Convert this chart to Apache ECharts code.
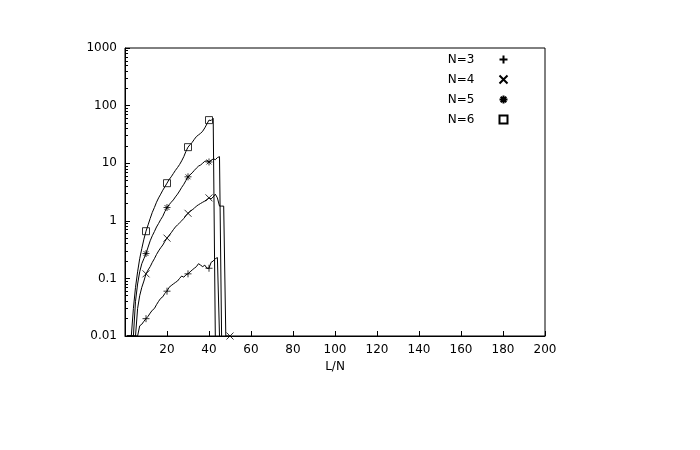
<!DOCTYPE html>
<html><head><meta charset="utf-8">
<script src="https://cdn.jsdelivr.net/npm/echarts@6/dist/echarts.min.js"></script>
</head><body style="margin:0">
<div id="c" style="width:700px;height:450px"></div>
<script>
const n3 = [0.01,0.01,0.01,0.01,0.01,0.01,0.015,0.016,0.018,0.02,0.022,0.025,0.028,0.03,0.035,0.04,0.045,0.048,0.055,0.06,0.07,0.075,0.08,0.085,0.09,0.1,0.11,0.105,0.115,0.12,0.13,0.14,0.15,0.16,0.18,0.17,0.16,0.17,0.15,0.15,0.19,0.2,0.22,0.23,0.01];
const n4 = [0.01,0.01,0.01,0.01,0.01,0.03,0.05,0.07,0.09,0.12,0.14,0.16,0.19,0.22,0.26,0.3,0.34,0.38,0.44,0.5,0.56,0.62,0.7,0.78,0.85,0.92,1.0,1.1,1.22,1.35,1.45,1.55,1.65,1.8,1.9,2.0,2.1,2.2,2.35,2.5,2.4,2.6,2.9,2.5,1.8,1.8,1.8,0.01,0.01,0.01];
const n5 = [0.01,0.01,0.01,0.01,0.04,0.08,0.13,0.18,0.22,0.27,0.35,0.45,0.55,0.65,0.78,0.9,1.05,1.2,1.45,1.7,1.9,2.1,2.3,2.6,2.9,3.3,3.8,4.3,5,5.8,6.3,6.8,7.5,8.2,8.9,9.3,10,10.8,11,10.5,11,12,11.5,12.5,13,0.01];
const n6 = [0.01,0.01,0.01,0.03,0.07,0.13,0.22,0.33,0.48,0.66,0.85,1.1,1.4,1.7,2.1,2.5,2.9,3.4,3.9,4.5,5.2,5.8,6.6,7.5,8.4,9.5,11,13,16,19,21,23,26,29,31,33,36,41,48,56,55,60,0.01];
const names = ['N=3','N=4','N=5','N=6'];
const xTicks = [20,40,60,80,100,120,140,160,180,200];
const syms = [
 'path://M5,0L5,10M0,5L10,5',
 'path://M0,0L10,10M10,0L0,10',
 'path://M5,0L5,10M0,5L10,5M1.5,1.5L8.5,8.5M8.5,1.5L1.5,8.5',
 'path://M0,0L10,0L10,10L0,10Z'
];
const all = [n3,n4,n5,n6];
const series = all.map((arr,i)=>({
  name: names[i], type:'line', symbol: syms[i],
  symbolSize: (v)=> v[0]%10===0 ? 7 : 0,
  showAllSymbol:true,
  data: arr.map((y,k)=>[k+1,y]),
  lineStyle:{color:'#000',width:1},
  itemStyle:{color:'none',borderColor:'#000',borderWidth:0.8},
  animation:false
}));
const chart = echarts.init(document.getElementById('c'));
chart.setOption({
  backgroundColor:'#fff',
  grid:{left:125,right:155,top:48,bottom:114,show:true,borderColor:'#000',borderWidth:1,backgroundColor:'transparent'},
  legend:{orient:'vertical',right:185,top:48,align:'right',itemGap:7,itemWidth:8,itemHeight:8,
    textStyle:{fontFamily:'DejaVu Sans',fontSize:12,color:'#000',padding:[0,20,0,0]},
    data:names.map((n,i)=>({name:n,icon:syms[i]}))},
  xAxis:{type:'value',min:0,max:200,interval:20,name:'L/N',nameLocation:'middle',nameGap:24,
    nameTextStyle:{fontFamily:'DejaVu Sans',fontSize:12,color:'#000'},
    axisLine:{lineStyle:{color:'#000'}},axisTick:{inside:true,lineStyle:{color:'#000'}},
    axisLabel:{color:'#000',fontFamily:'DejaVu Sans',fontSize:12,formatter:v=>xTicks.includes(v)?v:''},
    splitLine:{show:false}},
  yAxis:{type:'log',min:0.01,max:1000,logBase:10,
    axisLine:{lineStyle:{color:'#000'}},axisTick:{inside:true,lineStyle:{color:'#000'}},
    minorTick:{show:true,splitNumber:9,length:3,lineStyle:{color:'#000'}},
    axisLabel:{color:'#000',fontFamily:'DejaVu Sans',fontSize:12,formatter:v=>String(+v.toPrecision(3))},
    splitLine:{show:false}},
  series
});
</script></body></html>
